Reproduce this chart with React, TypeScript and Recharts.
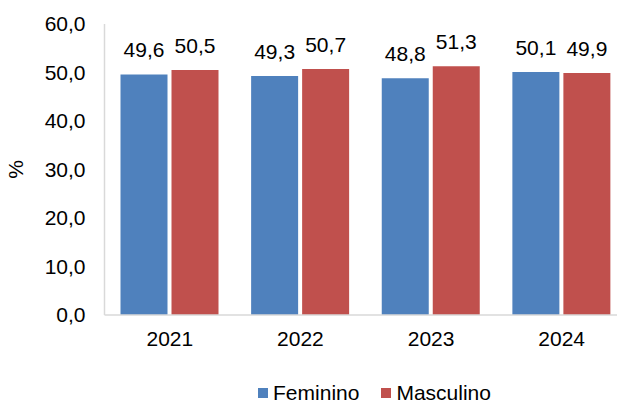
import { BarChart, Bar, XAxis, YAxis, Legend, LabelList } from "recharts";

const years = ["2021", "2022", "2023", "2024"];
const feminino = [49.6, 49.3, 48.8, 50.1];
const masculino = [50.5, 50.7, 51.3, 49.9];
const yTicks = [0, 10, 20, 30, 40, 50, 60];

const data = years.map((year, i) => ({
  year,
  feminino: feminino[i],
  masculino: masculino[i],
}));

const font = "'Liberation Sans', Arial, sans-serif";
const comma = (v: any) => Number(v).toFixed(1).replace(".", ",");

// legend with small squares, centered under the plot
function LegendBox() {
  const items = [
    { label: "Feminino", color: "#4F81BD" },
    { label: "Masculino", color: "#C0504D" },
  ];
  return (
    <div
      style={{
        display: "flex",
        justifyContent: "center",
        alignItems: "center",
        paddingTop: 36,
        paddingLeft: 122,
        fontFamily: font,
        fontSize: 21,
        lineHeight: "24px",
        color: "#000",
      }}
    >
      {items.map((it, i) => (
        <div key={it.label} style={{ display: "flex", alignItems: "center", marginLeft: i ? 22 : 0 }}>
          <span style={{ width: 10, height: 10, background: it.color, marginRight: 5, display: "inline-block" }} />
          <span>{it.label}</span>
        </div>
      ))}
    </div>
  );
}

export default function App() {
  return (
    <div style={{ position: "absolute", left: 0, top: 0, width: 617, height: 403, overflow: "hidden", background: "#fff" }}>
      <BarChart
        width={640}
        height={403}
        data={data}
        margin={{ top: 24, right: 13, left: 0, bottom: 0 }}
        barSize={47}
        barGap={4}
      >
        <XAxis
          dataKey="year"
          height={30}
          tickLine={false}
          tickSize={0}
          tickMargin={16}
          axisLine={{ stroke: "#D9D9D9", strokeWidth: 1.5 }}
          tick={{ fill: "#000", fontSize: 21, fontFamily: font }}
        />
        <YAxis
          width={104.5}
          domain={[0, 60]}
          ticks={yTicks}
          tickFormatter={comma}
          tickLine={false}
          tickSize={0}
          tickMargin={19}
          axisLine={{ stroke: "#D9D9D9", strokeWidth: 1.5 }}
          tick={{ fill: "#000", fontSize: 21, fontFamily: font }}
          label={{
            value: "%",
            angle: -90,
            position: "insideLeft",
            offset: 16,
            style: { fill: "#000", fontSize: 21, fontFamily: font, textAnchor: "middle" },
          }}
        />
        <Legend verticalAlign="bottom" height={58} content={() => <LegendBox />} />
        <Bar dataKey="feminino" name="Feminino" fill="#4F81BD" isAnimationActive={false}>
          <LabelList dataKey="feminino" position="top" offset={17} formatter={comma} style={{ fill: "#000", fontSize: 21, fontFamily: font }} />
        </Bar>
        <Bar dataKey="masculino" name="Masculino" fill="#C0504D" isAnimationActive={false}>
          <LabelList dataKey="masculino" position="top" offset={17} formatter={comma} style={{ fill: "#000", fontSize: 21, fontFamily: font }} />
        </Bar>
      </BarChart>
    </div>
  );
}
